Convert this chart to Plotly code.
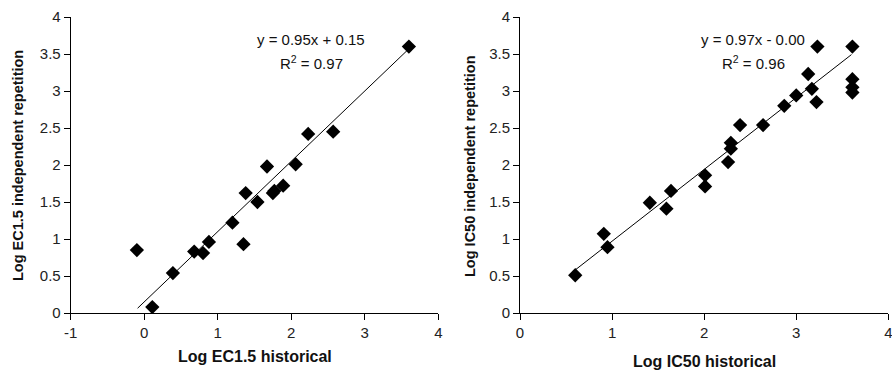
import plotly.graph_objects as go

# Left panel: EC1.5
ec_hist = [-0.10, 0.11, 0.39, 0.68, 0.80, 0.88, 1.20, 1.35, 1.38, 1.54, 1.67, 1.75, 1.77, 1.89, 2.06, 2.23, 2.57, 3.60]
ec_rep = [0.85, 0.08, 0.54, 0.83, 0.81, 0.96, 1.22, 0.93, 1.62, 1.50, 1.98, 1.62, 1.65, 1.72, 2.01, 2.42, 2.45, 3.60]
ec_fit_x = [-0.09, 3.6]
ec_slope, ec_icpt = 0.95, 0.15
ec_xticks = [-1, 0, 1, 2, 3, 4]
ec_xticklabels = ["-1", "0", "1", "2", "3", "4"]

# Right panel: IC50
ic_hist = [0.60, 0.91, 0.95, 1.41, 1.59, 1.64, 2.01, 2.01, 2.26, 2.29, 2.29, 2.39, 2.64, 2.87, 3.00,
           3.13, 3.17, 3.22, 3.23, 3.61, 3.61, 3.61, 3.61]
ic_rep = [0.51, 1.07, 0.89, 1.49, 1.41, 1.65, 1.86, 1.71, 2.04, 2.22, 2.30, 2.54, 2.54, 2.80, 2.94,
          3.23, 3.03, 2.85, 3.60, 3.60, 3.16, 3.05, 2.98]
ic_fit_x = [0.6, 3.6]
ic_slope, ic_icpt = 0.97, -0.00

FONT = "Liberation Sans, Arial, sans-serif"
W, H = 892, 370
MT, MB = 16.7, 56.7

fig = go.Figure()
mk = dict(symbol="diamond", size=11, color="black")
fig.add_trace(go.Scatter(x=ec_hist, y=ec_rep, mode="markers", marker=mk, xaxis="x", yaxis="y", showlegend=False))
fig.add_trace(go.Scatter(x=ec_fit_x, y=[ec_slope * v + ec_icpt for v in ec_fit_x], mode="lines",
                         line=dict(color="black", width=1), xaxis="x", yaxis="y", showlegend=False))
fig.add_trace(go.Scatter(x=ic_hist, y=ic_rep, mode="markers", marker=mk, xaxis="x2", yaxis="y2", showlegend=False))
fig.add_trace(go.Scatter(x=ic_fit_x, y=[ic_slope * v + ic_icpt for v in ic_fit_x], mode="lines",
                         line=dict(color="black", width=1), xaxis="x2", yaxis="y2", showlegend=False))

axcommon = dict(showgrid=False, zeroline=False, showline=True, linecolor="black", linewidth=1,
                ticks="outside", ticklen=6, tickcolor="black", automargin=False,
                tickfont=dict(family=FONT, size=15, color="#222"))

fig.update_layout(
    width=W, height=H,
    margin=dict(l=0, r=0, t=MT, b=MB),
    paper_bgcolor="white", plot_bgcolor="white",
    xaxis=dict(domain=[70.7 / W, 438.3 / W], range=[-1, 4], tickvals=ec_xticks, ticktext=ec_xticklabels,
               anchor="y", **axcommon),
    yaxis=dict(domain=[0, 1], range=[0, 4], dtick=0.5, anchor="x", **axcommon),
    xaxis2=dict(domain=[520 / W, 888.3 / W], range=[0, 4], dtick=1, anchor="y2", ticklabeloverflow="allow",
                **axcommon),
    yaxis2=dict(domain=[0, 1], range=[0, 4], dtick=0.5, anchor="x2", **axcommon),
)

ph = H - MT - MB


def px(x, y):
    return x / W, 1 - (y - MT) / ph


texts = [
    (311, 39, "y = 0.95x + 0.15", 15, 0, False),
    (311, 62, "R<sup>2</sup> = 0.97", 15, 0, False),
    (753, 39, "y = 0.97x - 0.00", 15, 0, False),
    (753, 62, "R<sup>2</sup> = 0.96", 15, 0, False),
    (255, 356.5, "Log EC1.5 historical", 16, 0, True),
    (704, 362, "Log IC50 historical", 16, 0, True),
    (18, 166, "Log EC1.5 independent repetition", 14.5, -90, True),
    (470, 166, "Log IC50 independent repetition", 14.5, -90, True),
]
for x, y, t, s, ang, bold in texts:
    ax_, ay_ = px(x, y)
    fig.add_annotation(x=ax_, y=ay_, xref="paper", yref="paper", text=f"<b>{t}</b>" if bold else t,
                       showarrow=False, xanchor="center", yanchor="middle", textangle=ang,
                       font=dict(family=FONT, size=s, color="#111"))

fig.write_html("out.html", config={"displayModeBar": False},
               post_script="document.body.style.margin='0';document.body.style.overflow='hidden';")
